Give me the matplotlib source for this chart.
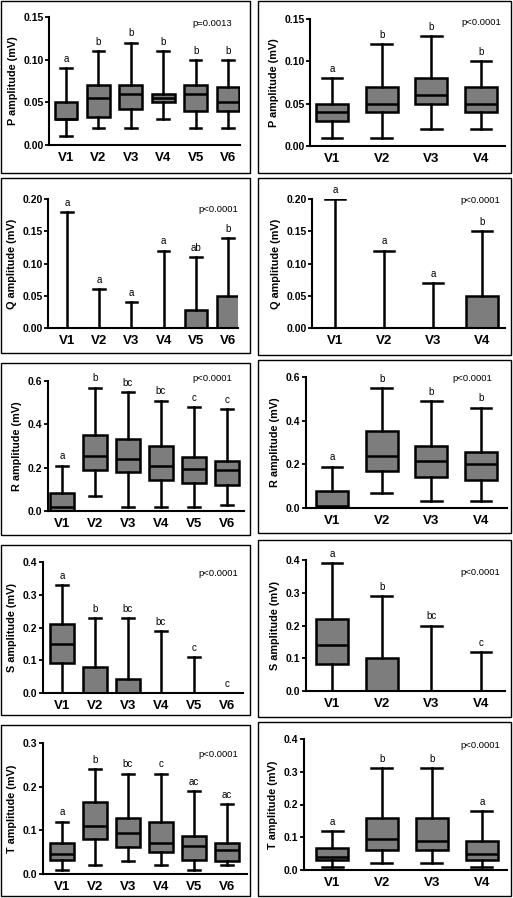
import matplotlib
matplotlib.use("Agg")
import matplotlib.pyplot as plt
from matplotlib.patches import Rectangle

plt.rcParams['font.family'] = ['Liberation Sans', 'DejaVu Sans']

leads6 = ["V1", "V2", "V3", "V4", "V5", "V6"]
leads4 = ["V1", "V2", "V3", "V4"]

# each box: (whisker low, q1, median, q3, whisker high)
p_left = [(0.01, 0.03, 0.03, 0.05, 0.09), (0.02, 0.033, 0.055, 0.07, 0.11),
          (0.02, 0.042, 0.06, 0.07, 0.12), (0.03, 0.05, 0.055, 0.06, 0.11),
          (0.02, 0.04, 0.06, 0.07, 0.10), (0.02, 0.04, 0.05, 0.068, 0.10)]
p_left_letters = ["a", "b", "b", "b", "b", "b"]
p_right = [(0.01, 0.03, 0.04, 0.05, 0.08), (0.01, 0.04, 0.05, 0.07, 0.12),
           (0.02, 0.05, 0.06, 0.08, 0.13), (0.02, 0.04, 0.05, 0.07, 0.10)]
p_right_letters = ["a", "b", "b", "b"]

q_left = [(0, 0, 0, 0, 0.18), (0, 0, 0, 0, 0.06), (0, 0, 0, 0, 0.04),
          (0, 0, 0, 0, 0.12), (0, 0, 0, 0.028, 0.11), (0, 0, 0, 0.05, 0.14)]
q_left_letters = ["a", "a", "a", "a", "ab", "b"]
q_right = [(0, 0, 0, 0, 0.20), (0, 0, 0, 0, 0.12), (0, 0, 0, 0, 0.07),
           (0, 0, 0, 0.05, 0.15)]
q_right_letters = ["a", "a", "a", "b"]

r_left = [(0.0, 0.0, 0.02, 0.082, 0.21), (0.07, 0.187, 0.255, 0.351, 0.57),
          (0.02, 0.178, 0.24, 0.333, 0.55), (0.02, 0.143, 0.21, 0.30, 0.51),
          (0.02, 0.129, 0.195, 0.25, 0.48), (0.03, 0.12, 0.19, 0.23, 0.47)]
r_left_letters = ["a", "b", "bc", "bc", "c", "c"]
r_right = [(0.0, 0.0, 0.01, 0.077, 0.19), (0.07, 0.169, 0.236, 0.352, 0.55),
           (0.03, 0.14, 0.215, 0.285, 0.49), (0.03, 0.127, 0.20, 0.258, 0.46)]
r_right_letters = ["a", "b", "b", "b"]

s_left = [(0.0, 0.092, 0.15, 0.21, 0.33), (0, 0, 0, 0.08, 0.23),
          (0, 0, 0, 0.042, 0.23), (0, 0, 0, 0, 0.19), (0, 0, 0, 0, 0.11),
          (0, 0, 0, 0, 0.0)]
s_left_letters = ["a", "b", "bc", "bc", "c", "c"]
s_right = [(0.0, 0.082, 0.14, 0.22, 0.39), (0, 0, 0, 0.10, 0.29),
           (0, 0, 0, 0, 0.20), (0, 0, 0, 0, 0.12)]
s_right_letters = ["a", "b", "bc", "c"]

t_left = [(0.01, 0.031, 0.046, 0.07, 0.12), (0.02, 0.08, 0.11, 0.166, 0.24),
          (0.03, 0.062, 0.094, 0.129, 0.23), (0.02, 0.05, 0.07, 0.118, 0.23),
          (0.01, 0.032, 0.065, 0.088, 0.19), (0.02, 0.03, 0.055, 0.07, 0.16)]
t_left_letters = ["a", "b", "bc", "c", "ac", "ac"]
t_right = [(0.01, 0.03, 0.04, 0.068, 0.12), (0.02, 0.06, 0.095, 0.16, 0.31),
           (0.02, 0.06, 0.09, 0.16, 0.31), (0.01, 0.03, 0.05, 0.088, 0.18)]
t_right_letters = ["a", "b", "b", "a"]

ylabels = ["P amplitude (mV)", "Q amplitude (mV)", "R amplitude (mV)",
           "S amplitude (mV)", "T amplitude (mV)"]
pvals_left = ["p=0.0013", "p<0.0001", "p<0.0001", "p<0.0001", "p<0.0001"]
pvals_right = ["p<0.0001", "p<0.0001", "p<0.0001", "p<0.0001", "p<0.0001"]
yticks_left = [[0.00, 0.05, 0.10, 0.15], [0.00, 0.05, 0.10, 0.15, 0.20],
               [0.0, 0.2, 0.4, 0.6], [0.0, 0.1, 0.2, 0.3, 0.4], [0.0, 0.1, 0.2, 0.3]]
yticks_right = [[0.00, 0.05, 0.10, 0.15], [0.00, 0.05, 0.10, 0.15, 0.20],
                [0.0, 0.2, 0.4, 0.6], [0.0, 0.1, 0.2, 0.3, 0.4], [0.0, 0.1, 0.2, 0.3, 0.4]]
ytick_fmt = ["{:.2f}", "{:.2f}", "{:.1f}", "{:.1f}", "{:.1f}"]

left_data = [p_left, q_left, r_left, s_left, t_left]
left_letters = [p_left_letters, q_left_letters, r_left_letters, s_left_letters, t_left_letters]
right_data = [p_right, q_right, r_right, s_right, t_right]
right_letters = [p_right_letters, q_right_letters, r_right_letters, s_right_letters, t_right_letters]

W, H = 513, 898
fig = plt.figure(figsize=(W / 100, H / 100), dpi=100)
fig.patch.set_facecolor("white")

# panel frames (pixels): x0, y0, x1, y1
frames_left = [(1, 1, 250, 173), (1, 178, 250, 353), (1, 363, 250, 535),
               (1, 545, 250, 715), (1, 725, 250, 896)]
frames_right = [(258, 1, 511, 173), (258, 178, 511, 355), (258, 360, 511, 533),
                (258, 540, 511, 717), (258, 722, 511, 896)]
# axes (pixels): left, right, top, bottom, first-cat px, last-cat px
axes_left = [(49, 240, 17, 145, 66, 228), (48, 238, 199, 328, 67, 228),
             (48, 244, 381, 511, 62, 227), (43, 243, 562, 693, 62, 227),
             (43, 247, 743, 874, 62, 227)]
axes_right = [(310, 505, 19, 146, 332, 481), (312, 505, 199, 328, 335, 482),
              (306, 507, 377, 508, 332, 481), (306, 505, 560, 691, 332, 481),
              (304, 507, 739, 870, 332, 482)]
# p-value text positions (axes fraction)
ppos_left = [(0.853, 0.953), (0.895, 0.915), (0.837, 1.02), (0.875, 0.916), (0.86, 0.916)]
ppos_right = [(0.88, 0.976), (0.87, 0.99), (0.826, 0.99), (0.874, 0.908), (0.867, 0.954)]

for (x0, y0, x1, y1) in frames_left + frames_right:
    fig.patches.append(Rectangle((x0 / W, 1 - y1 / H), (x1 - x0) / W, (y1 - y0) / H,
                                 transform=fig.transFigure, fill=False,
                                 edgecolor="black", linewidth=1.0))


def draw_panel(spec, data, letters, cats, yticks, fmt, ylabel, ptxt, ppos, bw, cw):
    l, r, t, b, c1, cn = spec
    ax = fig.add_axes([l / W, 1 - b / H, (r - l) / W, (b - t) / H])
    n = len(cats)
    step = (cn - c1) / (n - 1)
    ax.set_xlim(1 - (c1 - l) / step, n + (r - cn) / step)
    ax.set_ylim(yticks[0], yticks[-1])
    stats = []
    for lab, (lo, q1, med, q3, hi) in zip(cats, data):
        stats.append(dict(label=lab, whislo=lo, q1=q1, med=med, q3=q3, whishi=hi, fliers=[]))
    lw = 1.8
    ax.bxp(stats, positions=range(1, n + 1), widths=bw, capwidths=cw,
           showfliers=False, patch_artist=True,
           boxprops=dict(facecolor="#7d7d7d", edgecolor="black", linewidth=lw),
           medianprops=dict(color="black", linewidth=lw),
           whiskerprops=dict(color="black", linewidth=lw),
           capprops=dict(color="black", linewidth=lw))
    for i, (lt, d) in enumerate(zip(letters, data)):
        ax.annotate(lt, (i + 1, d[4]), xytext=(0, 3), textcoords="offset points",
                    ha="center", va="bottom", fontsize=7, annotation_clip=False)
    ax.spines["top"].set_visible(False)
    ax.spines["right"].set_visible(False)
    ax.spines["left"].set_linewidth(1.5)
    ax.spines["bottom"].set_linewidth(1.5)
    ax.set_yticks(yticks)
    ax.set_yticklabels([fmt.format(v) for v in yticks], fontsize=7.5, fontweight="bold")
    ax.set_xticks(range(1, n + 1))
    ax.set_xticklabels(cats, fontsize=9.5, fontweight="bold")
    ax.tick_params(axis="y", length=3, width=1.3, pad=1)
    ax.tick_params(axis="x", length=0, pad=5)
    ax.set_ylabel(ylabel, fontsize=7.8, fontweight="bold", labelpad=4)
    ax.text(ppos[0], ppos[1], ptxt, transform=ax.transAxes, ha="center", va="center",
            fontsize=6.8)
    ax.set_facecolor("white")
    return ax


for i in range(5):
    draw_panel(axes_left[i], left_data[i], left_letters[i], leads6, yticks_left[i],
               ytick_fmt[i], ylabels[i], pvals_left[i], ppos_left[i], 0.7, 0.36)
    draw_panel(axes_right[i], right_data[i], right_letters[i], leads4, yticks_right[i],
               ytick_fmt[i], ylabels[i], pvals_right[i], ppos_right[i], 0.65, 0.42)

fig.savefig("out.png", dpi=100, facecolor="white")
